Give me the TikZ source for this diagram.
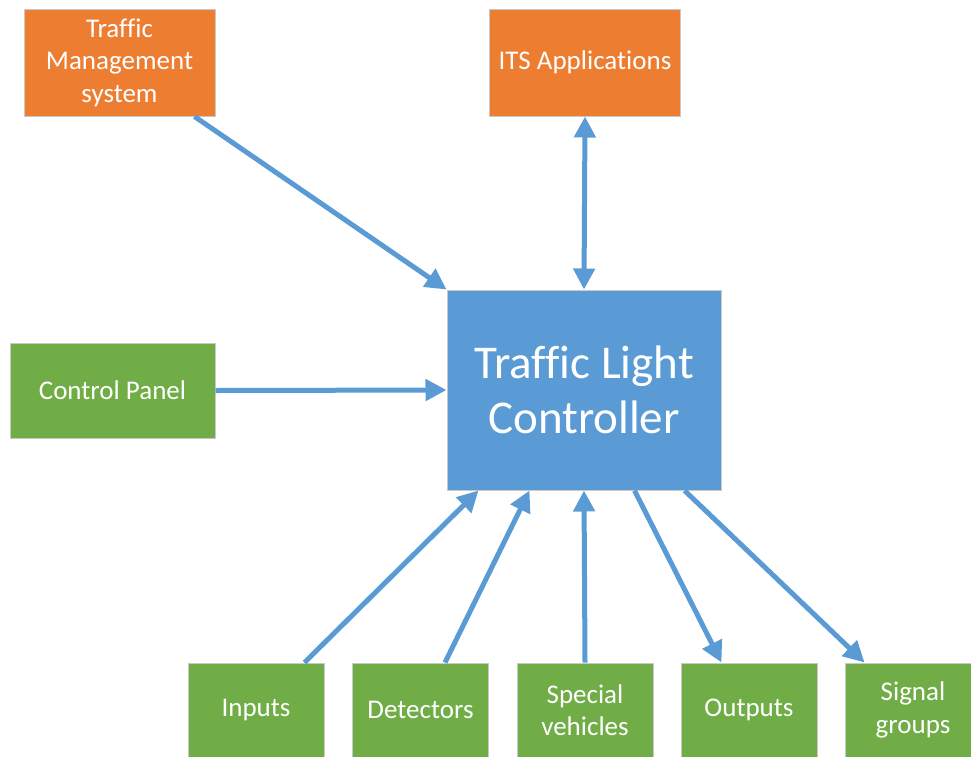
\documentclass[tikz,border=0pt]{standalone}
\usepackage{fontspec}
\setmainfont[Ligatures=NoCommon]{Carlito}
\usetikzlibrary{arrows.meta,calc}
\definecolor{orng}{HTML}{ED7D31}
\definecolor{blu}{HTML}{5B9BD5}
\definecolor{grn}{HTML}{70AD47}
\definecolor{edge}{HTML}{C9C9C9}
\tikzset{
  box/.style={draw=edge, line width=1pt, inner sep=0pt, align=center, text=white, font=\fontsize{27}{32.5}\selectfont},
  obox/.style={box, fill=orng, minimum width=191pt, minimum height=107pt},
  gbox/.style={box, fill=grn},
  bbox/.style={box, fill=blu, minimum width=274pt, minimum height=200pt, font=\fontsize{47}{55}\selectfont},
  conn/.style={draw=blu, line width=5pt, -{Triangle[length=21pt,width=21pt]}},
}
\begin{document}
\begin{tikzpicture}[x=1pt,y=-1pt]
\clip (0,0) rectangle (971,756);
\useasboundingbox (0,0) rectangle (971,756);
\node[obox] (tms) at (119.5,62.5) {Traffic\\Management\\system};
\node[obox] (its) at (585,62.5) {ITS Applications};
\node[bbox] (tlc) at (584,390) {Traffic Light\\Controller};
\node[gbox, minimum width=205pt, minimum height=95pt] (cp) at (112.5,390.5) {Control Panel};
\node[gbox, minimum width=136pt, minimum height=94pt] (inp) at (256,710) {Inputs};
\node[gbox, minimum width=136pt, minimum height=94pt] (det) at (420.5,710) {Detectors};
\node[gbox, minimum width=136pt, minimum height=94pt] (spv) at (585,710) {Special\\vehicles};
\node[gbox, minimum width=136pt, minimum height=94pt] (out) at (749,710) {Outputs};
\node[gbox, minimum width=136pt, minimum height=94pt] (sig) at (913,710) {Signal\\groups};
\draw[conn] ($(tms.south west)+(171,0)$) -- (tlc.north west);
\draw[conn, {Triangle[length=21pt,width=21pt]}-{Triangle[length=21pt,width=21pt]}] (its.south) -- (tlc.north);
\draw[conn] (cp.east) -- (tlc.west);
\draw[conn] ($(inp.north west)+(117,0)$) -- ($(tlc.south west)+(32,0)$);
\draw[conn] ($(det.north west)+(93,0)$) -- ($(tlc.south west)+(83,0)$);
\draw[conn] (spv.north) -- (tlc.south);
\draw[conn] ($(tlc.south west)+(188,0)$) -- ($(out.north west)+(41,0)$);
\draw[conn] ($(tlc.south west)+(238,0)$) -- ($(sig.north west)+(20,0)$);
\end{tikzpicture}
\end{document}
